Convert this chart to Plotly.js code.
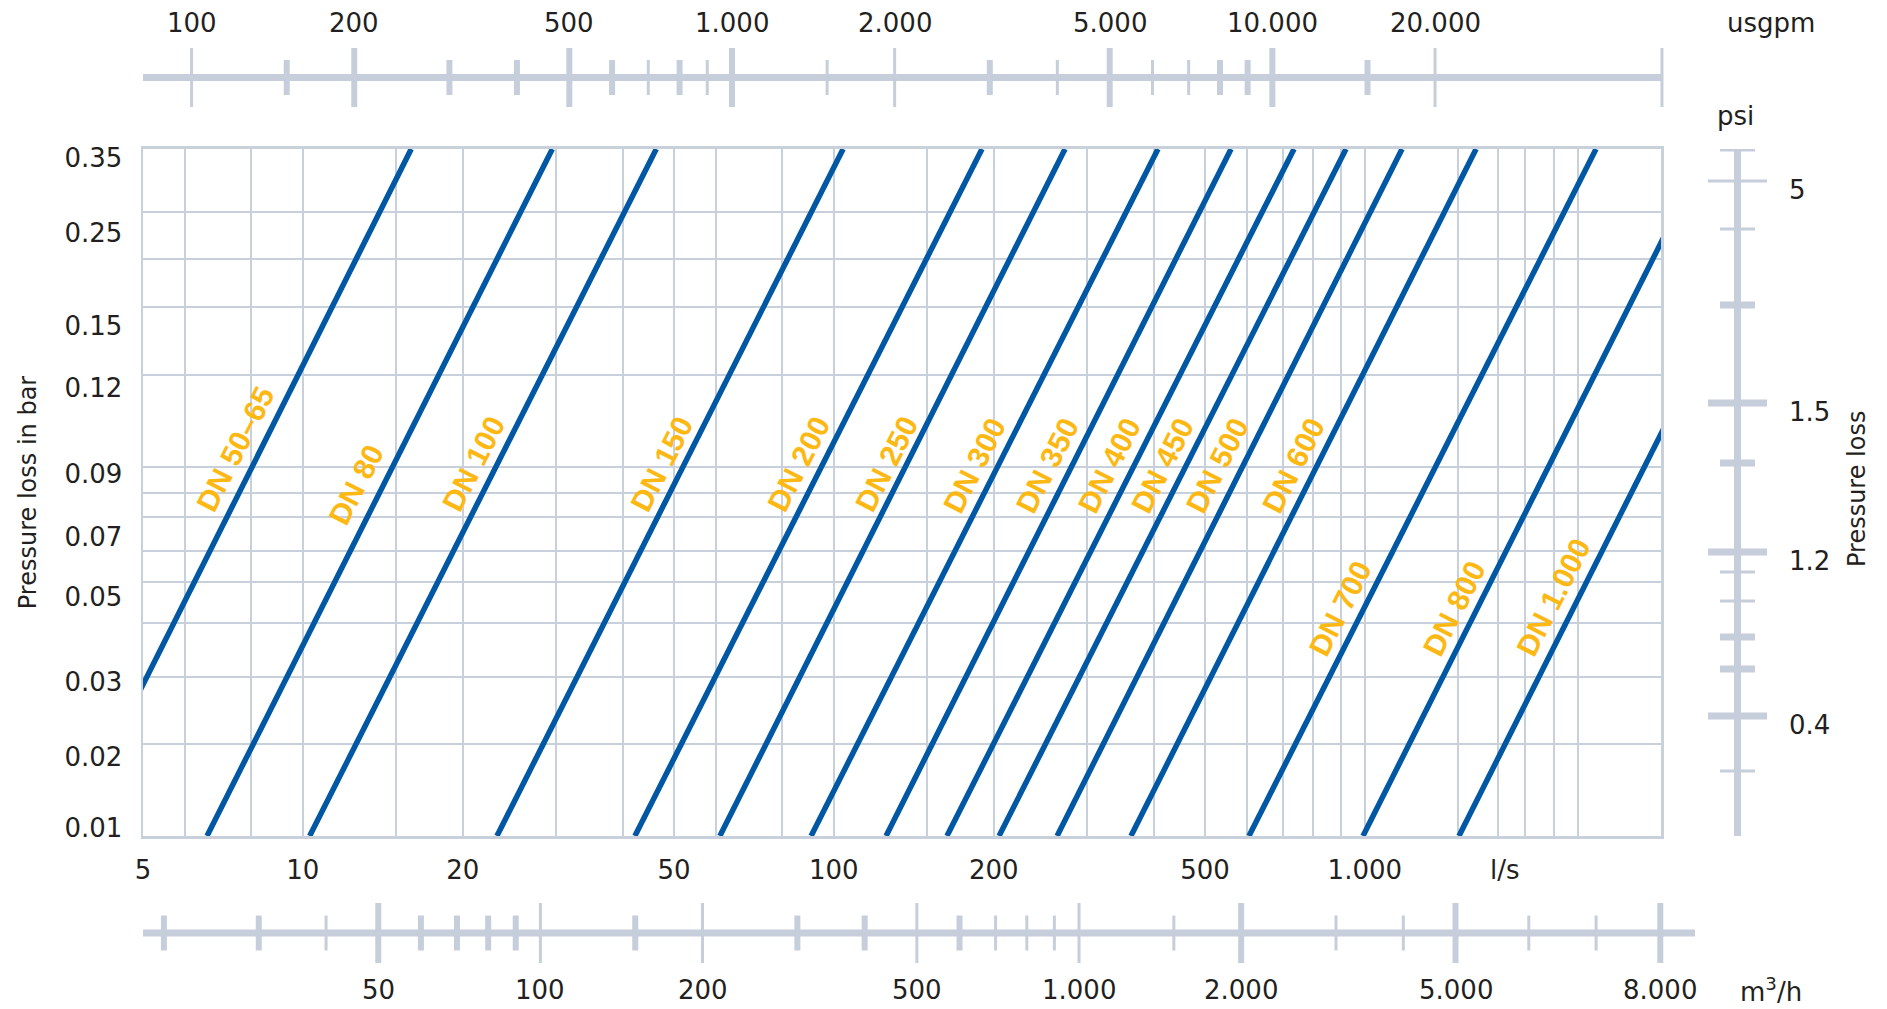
<!DOCTYPE html>
<html><head><meta charset="utf-8">
<script src="https://cdn.plot.ly/plotly-3.0.1.min.js"></script>
<style>html,body{margin:0;padding:0;background:#fff;} #chart{width:1887px;height:1009px;}</style>
</head><body><div id="chart"></div>
<script>
// ---------------- data ----------------
const dnNames   = ['DN 50–65','DN 80','DN 100','DN 150','DN 200','DN 250','DN 300','DN 350','DN 400','DN 450','DN 500','DN 600','DN 700','DN 800','DN 1.000'];
// flow (l/s) where each line crosses 0.01 bar and 0.35 bar
const flowAtLow  = [3.60, 6.60, 10.3, 23.2, 42.2, 61.0, 90.6, 125.4, 163.3, 204.7, 263.3, 362.7, 605, 992, 1504];
const flowAtHigh = [16.0, 29.5, 46.3, 104.1, 190.1, 272.5, 407.8, 559.8, 735.6, 921.5, 1175, 1620, 2725, 4430, 6716];
const lossLow = 0.01, lossHigh = 0.35;
// DN label anchor points (l/s, bar)
const labelFlow = [7.48, 12.59, 21.0, 47.5, 86.0, 125.9, 183.7, 252.0, 329.7, 415.0, 526.7, 732.4, 898, 1472, 2271];
const labelLoss = [0.0741, 0.0618, 0.0686, 0.0686, 0.0686, 0.0686, 0.0682, 0.0682, 0.0682, 0.0682, 0.0682, 0.0682, 0.0325, 0.0325, 0.0345];

// main flow axis (l/s)
const lsRange = [5, 3612];
const lsTickVals = [5, 10, 20, 50, 100, 200, 500, 1000];
const lsTickText = ['5', '10', '20', '50', '100', '200', '500', '1.000'];
const lsGrid = [6, 8, 10, 15, 20, 30, 40, 50, 60, 80, 100, 150, 200, 300, 400, 500, 600, 700, 800, 900, 1000, 1500, 1780, 2000, 2270, 2520];
const lsUnitAt = 1837;

// main pressure axis (bar): labels sit where the picture prints them
const barRange = [0.01, 0.35];
const barLabelAt   = [0.3341, 0.2266, 0.1400, 0.1016, 0.0651, 0.0470, 0.0345, 0.0222, 0.01505, 0.01042];
const barLabelText = ['0.35', '0.25', '0.15', '0.12', '0.09', '0.07', '0.05', '0.03', '0.02', '0.01'];
const barGrid = [0.2526, 0.1980, 0.1545, 0.1087, 0.0675, 0.0590, 0.0521, 0.0437, 0.0372, 0.0301, 0.0228, 0.0161];

// top scale (usgpm)
const usgpmRange = [81.3, 52600];
const usgpmLabelAt   = [100, 200, 500, 1000, 2000, 5000, 10000, 20000];
const usgpmLabelText = ['100', '200', '500', '1.000', '2.000', '5.000', '10.000', '20.000'];
const usgpmLongThick  = [200, 500, 1000, 5000, 10000];
const usgpmLongThin   = [100, 2000, 20000, 52600];
const usgpmShortThick = [150, 300, 400, 600, 800, 3000, 8000, 9000, 15000];
const usgpmShortThin  = [700, 900, 1500, 4000, 6000, 7000];

// bottom scale (m3/h)
const m3hRange = [18.29, 13920];
const m3hLabelAt   = [50, 100, 200, 500, 1000, 2000, 5000, 12000];
const m3hLabelText = ['50', '100', '200', '500', '1.000', '2.000', '5.000', '8.000'];
const m3hLongThick  = [50, 2000, 5000, 12000];
const m3hLongThin   = [100, 200, 500, 1000];
const m3hShortThick = [20, 30, 60, 70, 80, 90, 150, 300, 400, 600];
const m3hShortThin  = [40, 700, 800, 900, 1500, 3000, 4000, 6840, 9120];

// right scale (psi)
const psiLabelAt   = [4.301, 1.364, 0.6306, 0.2699];
const psiLabelText = ['5', '1.5', '1.2', '0.4'];
const psiLongThin   = [4.301];
const psiLongThick  = [1.364, 0.6306, 0.2699];
const psiShortThin  = [5.05, 3.355, 0.5686, 0.4895, 0.2031];
const psiShortThick = [2.264, 1.000, 0.4063, 0.3441];

// ---------------- styles ----------------
const L = Math.log10;
const BLUE = '#0057A3', GOLD = '#FDB813', GRID = '#C8D0DC', SCALE = '#C5CEDA', TXT = '#231F20';
const FONT = 'DejaVu Sans';
const BAR_PER_PSI = 0.0689476;
const psiRange = barRange.map(b => b / BAR_PER_PSI);

const traces = dnNames.map((n, i) => ({
  type: 'scatter', mode: 'lines', name: n,
  x: [flowAtLow[i], flowAtHigh[i]], y: [lossLow, lossHigh],
  line: {color: BLUE, width: 5.5}, hoverinfo: 'skip', showlegend: false
}));

// scale marks drawn as line traces on their own small subplots
function tickTrace(vals, xa, ya, lo, hi, w, vertical) {
  const a = [], b = [];
  vals.forEach(v => { a.push(v, v, null); b.push(lo, hi, null); });
  return {type: 'scatter', mode: 'lines', xaxis: xa, yaxis: ya,
    x: vertical ? b : a, y: vertical ? a : b,
    line: {color: SCALE, width: w}, hoverinfo: 'skip', showlegend: false};
}
// top (usgpm)
traces.push({type: 'scatter', mode: 'lines', xaxis: 'x2', yaxis: 'y3', x: usgpmRange, y: [0, 0], line: {color: SCALE, width: 7}, hoverinfo: 'skip', showlegend: false});
traces.push(tickTrace(usgpmLongThick, 'x2', 'y3', -1, 1, 6, false));
traces.push(tickTrace(usgpmLongThin, 'x2', 'y3', -1, 1, 3, false));
traces.push(tickTrace(usgpmShortThick, 'x2', 'y3', -0.593, 0.593, 6, false));
traces.push(tickTrace(usgpmShortThin, 'x2', 'y3', -0.593, 0.593, 3, false));
// bottom (m3/h)
traces.push({type: 'scatter', mode: 'lines', xaxis: 'x3', yaxis: 'y4', x: m3hRange, y: [0, 0], line: {color: SCALE, width: 7}, hoverinfo: 'skip', showlegend: false});
traces.push(tickTrace(m3hLongThick, 'x3', 'y4', -1, 1, 6, false));
traces.push(tickTrace(m3hLongThin, 'x3', 'y4', -1, 1, 3, false));
traces.push(tickTrace(m3hShortThick, 'x3', 'y4', -0.583, 0.583, 6, false));
traces.push(tickTrace(m3hShortThin, 'x3', 'y4', -0.583, 0.583, 3, false));
// right (psi)
traces.push({type: 'scatter', mode: 'lines', xaxis: 'x4', yaxis: 'y5', x: [0, 0], y: psiRange, line: {color: SCALE, width: 7}, hoverinfo: 'skip', showlegend: false});
traces.push(tickTrace(psiLongThick, 'x4', 'y5', -1, 1, 7, true));
traces.push(tickTrace(psiLongThin, 'x4', 'y5', -1, 1, 3, true));
traces.push(tickTrace(psiShortThick, 'x4', 'y5', -0.593, 0.593, 7, true));
traces.push(tickTrace(psiShortThin, 'x4', 'y5', -0.593, 0.593, 3, true));

const annotations = [];
const tf = {family: FONT, size: 26, color: TXT};
usgpmLabelAt.forEach((v, i) => annotations.push({xref: 'x2', yref: 'paper', x: L(v), y: 1.0184, text: usgpmLabelText[i], showarrow: false, font: tf, xanchor: 'center', yanchor: 'middle'}));
annotations.push({xref: 'paper', yref: 'paper', x: 1.0025, y: 1.0184, text: 'usgpm', showarrow: false, font: tf, xanchor: 'center', yanchor: 'middle'});
m3hLabelAt.forEach((v, i) => annotations.push({xref: 'x3', yref: 'paper', x: L(v), y: -0.0293, text: m3hLabelText[i], showarrow: false, font: tf, xanchor: 'center', yanchor: 'middle'}));
annotations.push({xref: 'paper', yref: 'paper', x: 1.0025, y: -0.0293, text: 'm<sup>3</sup>/h', showarrow: false, font: tf, xanchor: 'center', yanchor: 'middle'});
annotations.push({xref: 'x', yref: 'paper', x: L(lsUnitAt), y: 0.1008, text: 'l/s', showarrow: false, font: tf, xanchor: 'center', yanchor: 'middle'});
psiLabelAt.forEach((v, i) => annotations.push({xref: 'paper', yref: 'y5', x: 1.0123, y: L(v), yshift: -9, text: psiLabelText[i], showarrow: false, font: tf, xanchor: 'left', yanchor: 'middle'}));
annotations.push({xref: 'paper', yref: 'paper', x: 0.9803, y: 0.9177, text: 'psi', showarrow: false, font: tf, xanchor: 'center', yanchor: 'middle'});
annotations.push({xref: 'paper', yref: 'paper', x: 1.0554, y: 0.5135, text: 'Pressure loss', textangle: -90, showarrow: false, font: {family: FONT, size: 24, color: TXT}, xanchor: 'center', yanchor: 'middle'});
dnNames.forEach((n, i) => annotations.push({xref: 'x', yref: 'y', x: L(labelFlow[i]), y: L(labelLoss[i]), text: n, textangle: -63, showarrow: false,
  font: {family: 'Liberation Sans', size: 30, color: GOLD, weight: 'bold'}, xanchor: 'center', yanchor: 'middle'}));

const hidden = {showticklabels: false, showgrid: false, showline: false, zeroline: false, ticks: '', fixedrange: true, automargin: false};
const layout = {
  width: 1887, height: 1009,
  margin: {l: 143, r: 120, t: 40, b: 46, pad: 0},
  paper_bgcolor: '#fff', plot_bgcolor: '#fff',
  showlegend: false,
  xaxis: {
    domain: [0, 0.93473], anchor: 'y',
    type: 'log', range: lsRange.map(L), automargin: false, fixedrange: true,
    tickmode: 'array', tickvals: lsTickVals, ticktext: lsTickText, ticks: '', ticklabelstandoff: 9,
    tickfont: tf, showgrid: false, zeroline: false,
    minor: {tickmode: 'array', tickvals: lsGrid, showgrid: true, gridcolor: GRID, gridwidth: 2, ticks: ''},
    showline: true, mirror: true, linecolor: GRID, linewidth: 2.5
  },
  yaxis: {
    domain: [0.13759, 0.88191], anchor: 'x',
    type: 'log', range: barRange.map(L), automargin: false, fixedrange: true,
    tickmode: 'array', tickvals: barLabelAt, ticktext: barLabelText, ticks: '', ticklabelstandoff: 13,
    tickfont: tf, showgrid: false, zeroline: false,
    minor: {tickmode: 'array', tickvals: barGrid, showgrid: true, gridcolor: GRID, gridwidth: 2, ticks: ''},
    showline: true, mirror: true, linecolor: GRID, linewidth: 2.5,
    title: {text: 'Pressure loss in bar', font: {family: FONT, size: 24, color: TXT}, standoff: 21}
  },
  xaxis2: Object.assign({type: 'log', domain: [0, 0.93719], range: [L(usgpmRange[0]), L(usgpmRange[1]) + 0.0056], anchor: 'y3'}, hidden),
  yaxis3: Object.assign({type: 'linear', domain: [0.92741, 0.99133], range: [-1, 1], anchor: 'x2'}, hidden),
  xaxis3: Object.assign({type: 'log', domain: [0, 0.95567], range: m3hRange.map(L), anchor: 'y4'}, hidden),
  yaxis4: Object.assign({type: 'linear', domain: [0, 0.06501], range: [-1, 1], anchor: 'x3'}, hidden),
  xaxis4: Object.assign({type: 'linear', domain: [0.96367, 1.0], range: [-1, 1], anchor: 'y5'}, hidden),
  yaxis5: Object.assign({type: 'log', domain: [0.13759, 0.88191], range: psiRange.map(L), anchor: 'x4'}, hidden),
  annotations: annotations
};
Plotly.newPlot('chart', traces, layout, {staticPlot: true, displayModeBar: false});
</script>
</body></html>
